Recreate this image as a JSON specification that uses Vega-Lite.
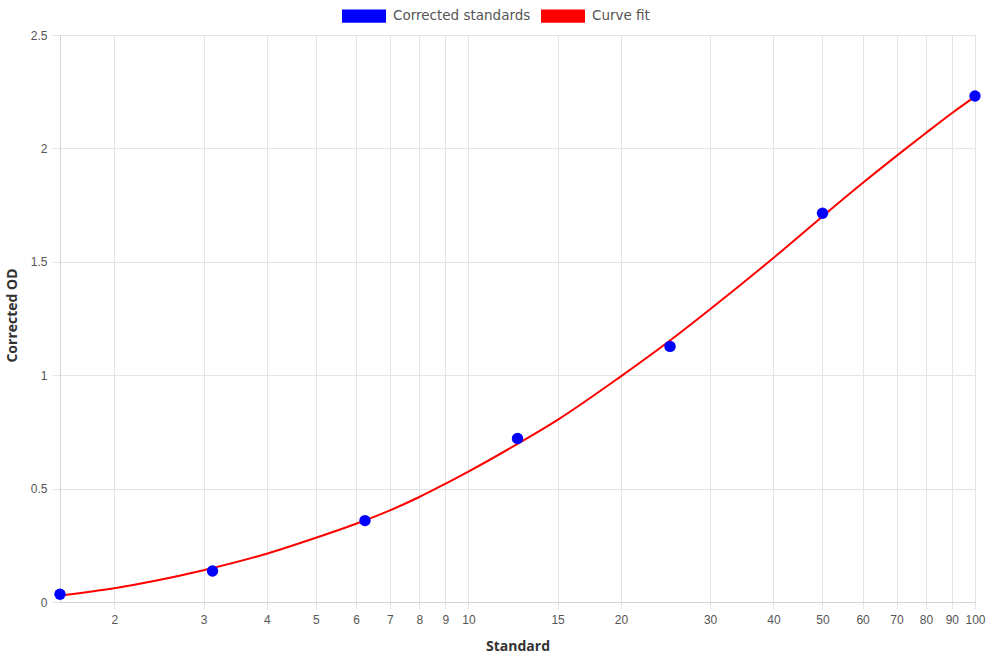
{
  "$schema": "https://vega.github.io/schema/vega-lite/v6.json",
  "width": 915,
  "height": 567,
  "autosize": {"type": "none"},
  "padding": {"left": 60, "top": 35, "right": 15, "bottom": 58},
  "background": "white",
  "config": {
    "view": {"stroke": null},
    "axis": {
      "gridColor": "#e4e4e4",
      "tickColor": "#e4e4e4",
      "domainColor": "#d4d4d4",
      "labelFont": "Liberation Sans",
      "labelFontSize": 12,
      "labelColor": "#555555",
      "titleFont": "Open Sans",
      "titleFontSize": 14,
      "titleFontWeight": "bold",
      "titleColor": "#333333"
    }
  },
  "datasets": {
    "standards": [
      {"x": 1.5625, "y": 0.034, "series": "Corrected standards"},
      {"x": 3.125, "y": 0.137, "series": "Corrected standards"},
      {"x": 6.25, "y": 0.359, "series": "Corrected standards"},
      {"x": 12.5, "y": 0.721, "series": "Corrected standards"},
      {"x": 25, "y": 1.127, "series": "Corrected standards"},
      {"x": 50, "y": 1.714, "series": "Corrected standards"},
      {"x": 100, "y": 2.231, "series": "Corrected standards"}
    ],
    "curve": [
      {"x": 1.5625, "y": 0.029, "series": "Curve fit"},
      {"x": 2, "y": 0.061, "series": "Curve fit"},
      {"x": 3, "y": 0.140, "series": "Curve fit"},
      {"x": 4, "y": 0.213, "series": "Curve fit"},
      {"x": 5, "y": 0.283, "series": "Curve fit"},
      {"x": 6, "y": 0.345, "series": "Curve fit"},
      {"x": 7, "y": 0.404, "series": "Curve fit"},
      {"x": 8, "y": 0.463, "series": "Curve fit"},
      {"x": 9, "y": 0.521, "series": "Curve fit"},
      {"x": 10, "y": 0.575, "series": "Curve fit"},
      {"x": 12.5, "y": 0.697, "series": "Curve fit"},
      {"x": 15, "y": 0.803, "series": "Curve fit"},
      {"x": 20, "y": 0.995, "series": "Curve fit"},
      {"x": 25, "y": 1.153, "series": "Curve fit"},
      {"x": 30, "y": 1.291, "series": "Curve fit"},
      {"x": 40, "y": 1.517, "series": "Curve fit"},
      {"x": 50, "y": 1.700, "series": "Curve fit"},
      {"x": 60, "y": 1.847, "series": "Curve fit"},
      {"x": 70, "y": 1.967, "series": "Curve fit"},
      {"x": 80, "y": 2.068, "series": "Curve fit"},
      {"x": 90, "y": 2.155, "series": "Curve fit"},
      {"x": 100, "y": 2.228, "series": "Curve fit"}
    ]
  },
  "encoding": {
    "x": {
      "field": "x",
      "type": "quantitative",
      "scale": {"type": "log", "domain": [1.5625, 100], "nice": false},
      "axis": {
        "title": "Standard",
        "values": [2, 3, 4, 5, 6, 7, 8, 9, 10, 15, 20, 30, 40, 50, 60, 70, 80, 90, 100],
        "labelExpr": "datum.value + ''",
        "tickSize": 7,
        "labelPadding": 5,
        "labelFlush": false,
        "labelOverlap": false,
        "titleY": 44,
        "titleBaseline": "middle"
      }
    },
    "y": {
      "field": "y",
      "type": "quantitative",
      "scale": {"domain": [0, 2.5], "nice": false},
      "axis": {
        "title": "Corrected OD",
        "values": [0, 0.5, 1, 1.5, 2, 2.5],
        "labelExpr": "datum.value + ''",
        "tickSize": 8,
        "labelPadding": 5,
        "labelFlush": false,
        "titleX": -48,
        "titleY": 280,
        "titleAngle": -90,
        "titleBaseline": "middle",
        "titleAlign": "center"
      }
    },
    "color": {
      "field": "series",
      "type": "nominal",
      "scale": {"domain": ["Corrected standards", "Curve fit"], "range": ["#0000ff", "#ff0000"]},
      "legend": {
        "title": null,
        "orient": "none",
        "direction": "horizontal",
        "legendX": 282,
        "legendY": -41,
        "symbolType": "M-1,-0.3H1V0.3H-1Z",
        "symbolSize": 1936,
        "symbolStrokeWidth": 0,
        "symbolOpacity": 1,
        "labelFont": "DejaVu Sans",
        "labelFontSize": 13.5,
        "labelColor": "#555555",
        "labelOffset": 7,
        "columnPadding": 10,
        "encode": {
          "symbols": {
            "update": {
              "fill": {"scale": "color", "field": "value"},
              "stroke": {"value": "transparent"},
              "opacity": {"value": 1}
            }
          }
        }
      }
    }
  },
  "layer": [
    {
      "data": {"name": "curve"},
      "mark": {"type": "line", "strokeWidth": 2, "interpolate": "monotone"}
    },
    {
      "data": {"name": "standards"},
      "mark": {"type": "point", "filled": true, "shape": "circle", "size": 130, "opacity": 1}
    }
  ]
}
